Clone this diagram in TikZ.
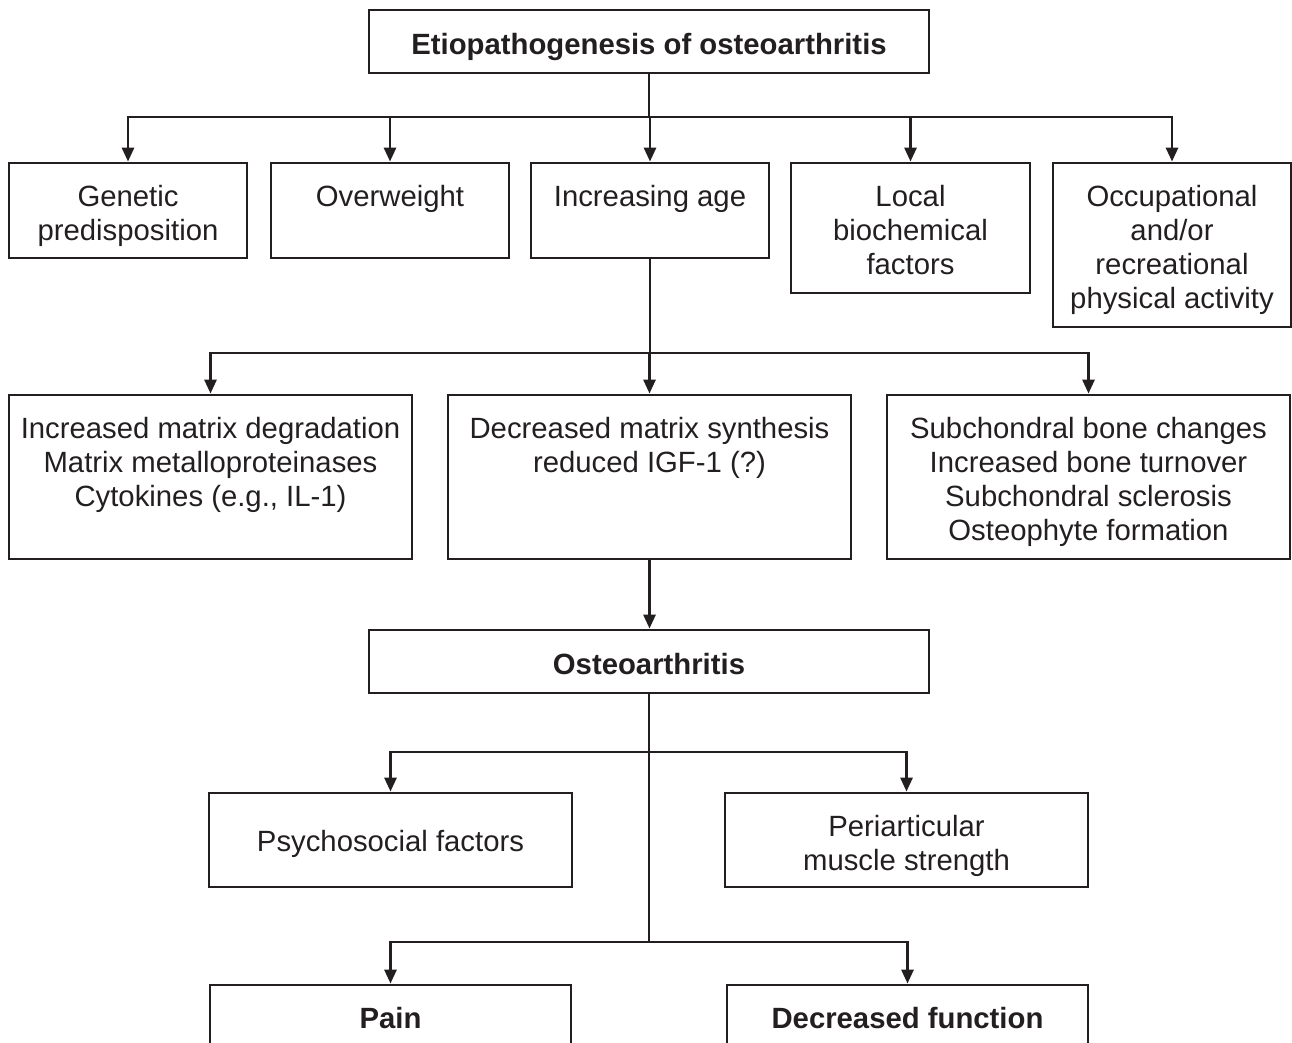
\documentclass[tikz,border=0pt]{standalone}
\usepackage{fontspec}
\setmainfont{Liberation Sans}
\usepackage{tikz}
\usetikzlibrary{arrows.meta}
\definecolor{ink}{RGB}{35,31,32}

\begin{document}
\begin{tikzpicture}[x=1pt, y=-1pt, line width=2.8pt, color=ink,
    box/.style 2 args={draw, minimum width=#1, minimum height=#2, inner sep=0pt},
    lbl/.style={anchor=north, align=center, inner sep=0pt, font=\fontsize{29.3}{34}\selectfont},
    arr/.style={-{Triangle[length=14pt, width=12pt]}}]
        \useasboundingbox (0,0) rectangle (1292,1043);
        \clip (0,0) rectangle (1292,1043);
        % boxes
        \node[box={560}{63}]  (top)  at (649,41.5) {};
        \node[box={238}{95}]  (gen)  at (128,210.5) {};
        \node[box={238}{95}]  (ovw)  at (390,210.5) {};
        \node[box={238}{95}]  (age)  at (650,210.5) {};
        \node[box={239}{130}] (loc)  at (910.5,228) {};
        \node[box={238}{164}] (occ)  at (1172,245) {};
        \node[box={403}{164}] (deg)  at (210.5,477) {};
        \node[box={403}{164}] (syn)  at (649.5,477) {};
        \node[box={403}{164}] (bone) at (1088.5,477) {};
        \node[box={560}{63}]  (oa)   at (649,661.5) {};
        \node[box={363}{94}]  (psy)  at (390.5,840) {};
        \node[box={363}{94}]  (peri) at (906.5,840) {};
        \node[box={361}{95}]  (pain) at (390.5,1032.5) {};
        \node[box={361}{95}]  (func) at (907.5,1032.5) {};
        % texts
        \node[lbl, font=\fontsize{29.3}{34}\selectfont\bfseries] (top-t) at ([yshift=-23pt]top.north) {Etiopathogenesis of osteoarthritis};
        \node[lbl] (gen-t) at ([yshift=-22.5pt]gen.north) {Genetic\\predisposition};
        \node[lbl] (ovw-t) at ([yshift=-22.5pt]ovw.north) {Overweight};
        \node[lbl] (age-t) at ([yshift=-22.5pt]age.north) {Increasing age};
        \node[lbl] (loc-t) at ([yshift=-22.5pt]loc.north) {Local\\biochemical\\factors};
        \node[lbl] (occ-t) at ([yshift=-22.5pt]occ.north) {Occupational\\and/or\\recreational\\physical activity};
        \node[lbl] (deg-t) at ([yshift=-22.5pt]deg.north) {Increased matrix degradation\\Matrix metalloproteinases\\Cytokines (e.g., IL-1)};
        \node[lbl] (syn-t) at ([yshift=-22.5pt]syn.north) {Decreased matrix synthesis\\reduced IGF-1 (?)};
        \node[lbl] (bone-t) at ([yshift=-22.5pt]bone.north) {Subchondral bone changes\\Increased bone turnover\\Subchondral sclerosis\\Osteophyte formation};
        \node[lbl, font=\fontsize{29.3}{34}\selectfont\bfseries] (oa-t) at ([yshift=-23pt]oa.north) {Osteoarthritis};
        \node[lbl] (psy-t) at ([yshift=-37.5pt]psy.north) {Psychosocial factors};
        \node[lbl] (peri-t) at ([yshift=-22.5pt]peri.north) {Periarticular\\muscle strength};
        \node[lbl, font=\fontsize{29.3}{34}\selectfont\bfseries] (pain-t) at ([yshift=-22.5pt]pain.north) {Pain};
        \node[lbl, font=\fontsize{29.3}{34}\selectfont\bfseries] (func-t) at ([yshift=-22.5pt]func.north) {Decreased function};
        % branch levels
        \coordinate (b1) at (0,117);
        \coordinate (b2) at (0,353);
        \coordinate (b3) at (0,752);
        \coordinate (b4) at (0,942);
        % connectors
        \foreach \n in {gen,ovw,age,loc,occ}
            \draw[arr] (top.south) |- (\n.north |- b1) -- (\n.north);
        \foreach \n in {deg,syn,bone}
            \draw[arr] (age.south) |- (\n.north |- b2) -- (\n.north);
        \draw[arr] (syn.south) -- (syn.south |- oa.north);
        \foreach \n in {psy,peri}
            \draw[arr] (oa.south) |- (\n.north |- b3) -- (\n.north);
        \foreach \n in {pain,func}
            \draw[arr] (oa.south) |- (\n.north |- b4) -- (\n.north);
    \end{tikzpicture}
\end{document}
